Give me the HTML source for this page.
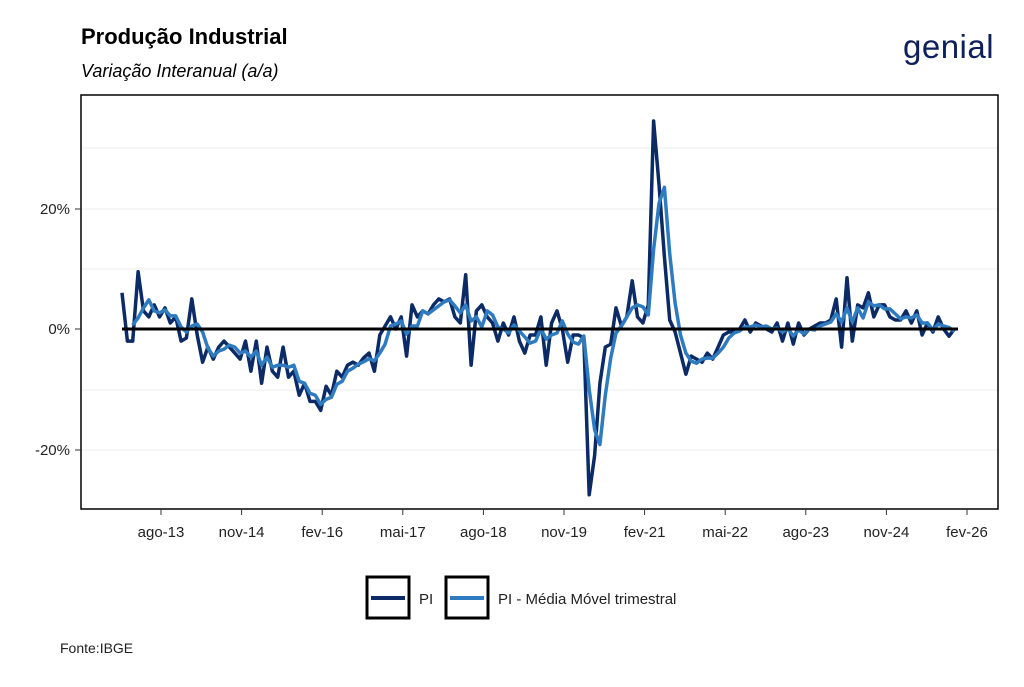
<!DOCTYPE html>
<html><head><meta charset="utf-8"><style>
body{margin:0;background:#fff;width:1024px;height:682px;overflow:hidden;font-family:"Liberation Sans",Arial,sans-serif}
</style></head><body>
<svg id="s" width="1024" height="682" xmlns="http://www.w3.org/2000/svg" font-family="Liberation Sans, Arial, sans-serif">
<text x="81" y="44" font-size="22" font-weight="bold" fill="#000">Produção Industrial</text>
<text x="81" y="77" font-size="18" font-style="italic" fill="#000">Variação Interanual (a/a)</text>
<text x="903" y="58" font-size="33" fill="#0d1f5c" letter-spacing="0.5">genial</text>
<rect x="81" y="95" width="917" height="414" fill="#fff" stroke="#000" stroke-width="1.5"/>
<g stroke="#ececec" stroke-width="1">
<line x1="82" x2="997" y1="148" y2="148"/><line x1="82" x2="997" y1="269" y2="269"/><line x1="82" x2="997" y1="390" y2="390"/>
<line x1="82" x2="997" y1="209" y2="209"/><line x1="82" x2="997" y1="450" y2="450"/>
</g>
<g font-size="15" fill="#222" text-anchor="end">
<text x="70" y="214">20%</text><text x="70" y="334">0%</text><text x="70" y="455">-20%</text>
</g>
<g stroke="#333" stroke-width="1">
<line x1="75" x2="81" y1="209" y2="209"/><line x1="75" x2="81" y1="329" y2="329"/><line x1="75" x2="81" y1="450" y2="450"/>
</g>
<g id="xt" font-size="15" fill="#222" text-anchor="middle"></g>
<g id="lines"></g>
<rect x="367" y="577" width="42" height="41" fill="#fff" stroke="#000" stroke-width="3"/>
<line x1="371" x2="405" y1="598" y2="598" stroke="#0b2a66" stroke-width="4"/>
<text x="419" y="604" font-size="15" fill="#222">PI</text>
<rect x="446" y="577" width="42" height="41" fill="#fff" stroke="#000" stroke-width="3"/>
<line x1="450" x2="484" y1="598" y2="598" stroke="#2f7bc0" stroke-width="4"/>
<text x="498" y="604" font-size="15" fill="#222">PI - Média Móvel trimestral</text>
<text x="60" y="653" font-size="14" fill="#222">Fonte:IBGE</text>
</svg>
<script>
var d=[6,-2,-2,9.5,3,2,4,2,3.5,1,2,-2,
-1.5,5,-1,-5.5,-3,-5,-3,-2,-3,-4,-5,-2,
-7,-2,-9,-3,-7,-8,-3,-8,-7,-11,-9,-12,
-12,-13.5,-9.5,-11,-7,-8,-6,-5.5,-6,-4.8,-4,-7,
-1,0.5,2,0,2,-4.5,4,2,3,2.5,4,5,
4.5,5,2,1,9,-6,3,4,2,1,-2,1,
-1,2,-2,-4,-1,-1,2,-6,1,3,0,-5.5,
-1,-1,-1.5,-27.5,-21,-9,-3,-2.5,3.5,0.5,2,8,
2,1,4,34.5,24,12,1.5,-0.5,-4,-7.5,-4.5,-5,
-5.5,-4,-5,-3,-1,-0.5,-0.5,0,1.5,-0.5,1,0.5,
0,-0.5,1,-2,1,-2.5,1,-1,0,0.5,1,1,
1.5,5,-3,8.5,-2,4,3.5,6,2,4,4,2,
1.5,1.5,3,1,3,-1,1,-0.5,2,0,-1.2,0];
function X(i){return 122+i*5.37}function Y(v){return 329-v*6.03}
var p=d.map((v,i)=>X(i).toFixed(1)+","+Y(v).toFixed(1)).join(" ");
var m=[];for(var i=2;i<d.length;i++)m.push(X(i).toFixed(1)+","+Y((d[i]+d[i-1]+d[i-2])/3).toFixed(1));
var ns="http://www.w3.org/2000/svg",g=document.getElementById("lines");
function pl(pts,c,w){var e=document.createElementNS(ns,"polyline");e.setAttribute("points",pts);e.setAttribute("fill","none");e.setAttribute("stroke",c);e.setAttribute("stroke-width",w);e.setAttribute("stroke-linejoin","round");g.appendChild(e);}
var z=document.createElementNS(ns,"line");z.setAttribute("x1",122);z.setAttribute("x2",958);z.setAttribute("y1",329);z.setAttribute("y2",329);z.setAttribute("stroke","#000");z.setAttribute("stroke-width",3);
pl(p,"#0b2a66",3.5);pl(m.join(" "),"#2f7bc0",3.5);g.appendChild(z);
var lb=["ago-13","nov-14","fev-16","mai-17","ago-18","nov-19","fev-21","mai-22","ago-23","nov-24","fev-26"],xt=document.getElementById("xt");
lb.forEach((t,k)=>{var x=161+k*80.6;var tx=document.createElementNS(ns,"text");tx.setAttribute("x",x);tx.setAttribute("y",537);tx.textContent=t;xt.appendChild(tx);
var l=document.createElementNS(ns,"line");l.setAttribute("x1",x);l.setAttribute("x2",x);l.setAttribute("y1",509);l.setAttribute("y2",515);l.setAttribute("stroke","#333");xt.appendChild(l);});
</script>
</body></html>
